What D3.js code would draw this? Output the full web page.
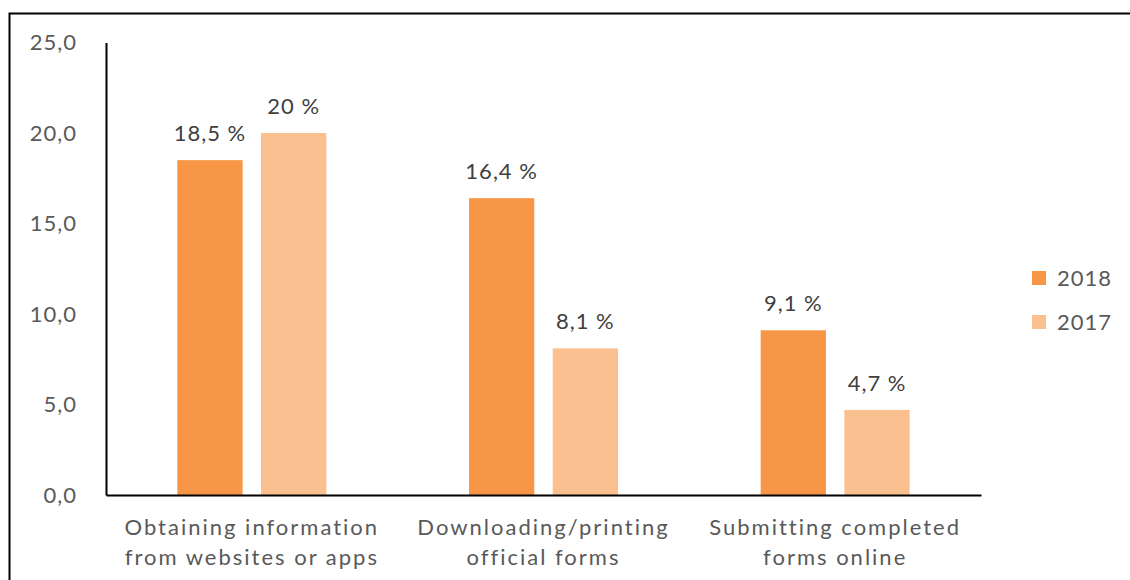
<!DOCTYPE html>
<html><head><meta charset="utf-8">
<script src="https://cdn.jsdelivr.net/npm/d3@7"></script>
<style>body{margin:0;background:#fff;} svg{display:block;}</style>
</head><body>
<svg id="chart" width="1130" height="580"></svg>
<script>
const categories = [["Obtaining information","from websites or apps"],["Downloading/printing","official forms"],["Submitting completed","forms online"]];
const seriesNames = ["2018","2017"];
const values2018 = [18.5, 16.4, 9.1];
const values2017 = [20, 8.1, 4.7];
const labels2018 = ["18,5 %","16,4 %","9,1 %"];
const labels2017 = ["20 %","8,1 %","4,7 %"];
const yTicks = [0,5,10,15,20,25];
const colors = ["#F79646","#FAC090"];

const svg = d3.select("#chart");
const font = "Lato, 'Open Sans', sans-serif";
svg.append("rect").attr("x",9.5).attr("y",13.5).attr("width",1200).attr("height",700)
  .attr("fill","none").attr("stroke","#000").attr("stroke-width",2);

const m = {left:106, right:981, top:42.5, bottom:495};
const x = d3.scaleBand().domain(d3.range(3)).range([m.left,m.right]);
const y = d3.scaleLinear().domain([0,25]).range([m.bottom,m.top]);
const inner = d3.scaleBand().domain([0,1]).range([0,149]).paddingInner(0.22);
const off = (x.bandwidth()-149)/2;

// y-axis
const yAxis = svg.append("g").attr("transform",`translate(${m.left},0)`)
  .call(d3.axisLeft(y).tickValues(yTicks).tickSize(0).tickPadding(29).tickFormat(d=>d3.format(".1f")(d).replace(".",",")));
yAxis.select(".domain").attr("stroke","#000").attr("stroke-width",2);
yAxis.selectAll("text").attr("font-family",font).attr("font-size",22).attr("fill","#595959").attr("letter-spacing","1px");

const series = [values2018, values2017];
const labs = [labels2018, labels2017];
series.forEach((vals,si)=>{
  svg.append("g").selectAll("rect").data(vals).join("rect")
    .attr("x",(d,i)=>x(i)+off+inner(si)).attr("width",inner.bandwidth())
    .attr("y",d=>y(d)).attr("height",d=>y(0)-y(d)).attr("fill",colors[si]);
  svg.append("g").selectAll("text").data(vals).join("text")
    .attr("x",(d,i)=>x(i)+off+inner(si)+inner.bandwidth()/2).attr("y",d=>y(d)-19)
    .attr("text-anchor","middle").attr("font-family",font).attr("font-size",22)
    .attr("fill","#404040").attr("letter-spacing","1px").text((d,i)=>labs[si][i]);
});

// x-axis
const xAxis = svg.append("g").attr("transform",`translate(0,${m.bottom})`)
  .call(d3.axisBottom(x).tickSize(0).tickFormat(""));
xAxis.select(".domain").attr("stroke","#000").attr("stroke-width",2);
categories.forEach((lines,i)=>{
  const t = svg.append("text").attr("x",x(i)+x.bandwidth()/2).attr("y",535)
    .attr("text-anchor","middle").attr("font-family",font).attr("font-size",22)
    .attr("fill","#595959").attr("letter-spacing","2px");
  lines.forEach((l,j)=>t.append("tspan").attr("x",x(i)+x.bandwidth()/2).attr("dy",j?30:0).text(l));
});

// legend
seriesNames.forEach((n,i)=>{
  svg.append("rect").attr("x",1032).attr("y",271+i*44).attr("width",14).attr("height",14).attr("fill",colors[i]);
  svg.append("text").attr("x",1057).attr("y",286+i*44).attr("font-family",font).attr("font-size",22)
    .attr("fill","#595959").attr("letter-spacing","1px").text(n);
});
</script>
</body></html>
